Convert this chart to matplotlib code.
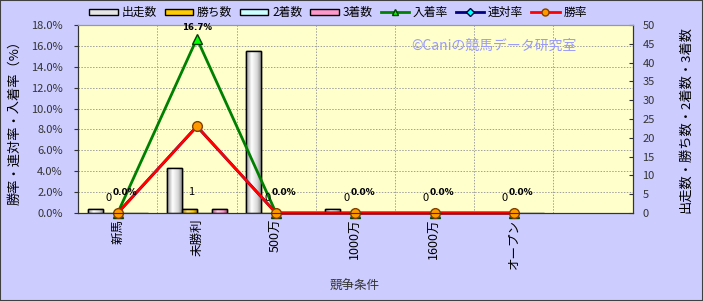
import matplotlib
matplotlib.use("Agg")
import matplotlib.pyplot as plt
import numpy as np
from matplotlib.patches import Patch, Rectangle
from matplotlib.lines import Line2D
from matplotlib.colors import LinearSegmentedColormap

plt.rcParams['font.family'] = ['Noto Sans CJK JP', 'DejaVu Sans']

categories = ['新馬', '未勝利', '500万', '1000万', '1600万', 'オープン', '']
starts = [1, 12, 43, 1, 0, 0]
wins = [0, 1, 0, 0, 0, 0]
seconds = [0, 0, 0, 0, 0, 0]
thirds = [0, 1, 0, 0, 0, 0]
place_rate = [0.0, 16.7, 0.0, 0.0, 0.0, 0.0]
quinella_rate = [0.0, 8.3, 0.0, 0.0, 0.0, 0.0]
win_rate = [0.0, 8.3, 0.0, 0.0, 0.0, 0.0]

fig = plt.figure(figsize=(7.03, 3.01), dpi=100, facecolor='#CCCCFF')
fig.patches.append(Rectangle((0, 0), 1, 1, transform=fig.transFigure, fill=False,
                             edgecolor='#404040', linewidth=1.5))
ax2 = fig.add_axes([0.111, 0.292, 0.789, 0.625])
ax = ax2.twinx()
# swap roles so the rate axis is on the left
ax.yaxis.tick_left()
ax.yaxis.set_label_position('left')
ax2.yaxis.tick_right()
ax2.yaxis.set_label_position('right')
ax2.set_facecolor('#FFFFCC')
ax.patch.set_visible(False)

n = len(starts)
x = np.arange(n)
w = 0.19
grid_c = '#A0A0A0'
for yv in np.arange(2, 18, 2):
    ax2.axhline(yv * 50 / 18, color=grid_c, linestyle=(0, (1.5, 1.5)), linewidth=0.7, zorder=0)
for xv in np.arange(0.5, len(categories) - 0.5, 1):
    ax2.axvline(xv, color=grid_c, linestyle=(0, (1.5, 1.5)), linewidth=0.7, zorder=0)

bar_sets = [(starts, ['#909090', '#FFFFFF', '#D8D8D8', '#808080'], '#E6E6E6'),
            (wins, ['#B08000', '#FFE680', '#FFCC00', '#A07000'], '#FFCC00'),
            (seconds, ['#88CCCC', '#F0FFFF', '#CCFFFF', '#88CCCC'], '#CCFFFF'),
            (thirds, ['#B05080', '#FFD0E8', '#FF99CC', '#A04070'], '#FF99CC')]
grad = np.linspace(0, 1, 64).reshape(1, -1)
for k, (vals, cols, base) in enumerate(bar_sets):
    cmap = LinearSegmentedColormap.from_list(f'g{k}', list(zip([0, 0.35, 0.7, 1], cols)))
    bars = ax2.bar(x + (k - 1.5) * w, vals, width=w, color=base, edgecolor='black', linewidth=1, zorder=2)
    for b in bars:
        if b.get_height() <= 0:
            continue
        im = ax2.imshow(grad, cmap=cmap, aspect='auto', zorder=2.5,
                        extent=[b.get_x(), b.get_x() + b.get_width(), 0, b.get_height()])
        im.set_clip_path(b)
        ax2.add_patch(Rectangle((b.get_x(), 0), b.get_width(), b.get_height(), fill=False,
                                edgecolor='black', linewidth=1, zorder=3))

ax2.set_xlim(-0.5, len(categories) - 0.5)
ax2.set_ylim(0, 50)
ax2.set_yticks(range(0, 51, 5))
ax2.tick_params(axis='y', labelsize=8, colors='#333333', direction='in', length=3, pad=7)

ax.plot(x, place_rate, color='#008000', lw=2, marker='^', ms=7, mfc='#00FF00', mec='#004000', clip_on=False)
ax.plot(x, quinella_rate, color='#000080', lw=2, marker='D', ms=5, mfc='#00FFFF', mec='#000040', clip_on=False)
ax.plot(x, win_rate, color='#FF0000', lw=2, marker='o', ms=7, mfc='#FF9900', mec='#804000', clip_on=False)

ax.set_xlim(-0.5, len(categories) - 0.5)
ax.set_ylim(0, 18)
ax.set_yticks(np.arange(0, 18.1, 2))
ax.set_yticklabels([f'{v:.1f}%' for v in np.arange(0, 18.1, 2)])
ax2.set_xticks(x)
ax2.set_xticklabels(categories[:n], rotation=90, fontsize=9)
ax2.tick_params(axis='x', length=0, pad=4)
ax.tick_params(axis='y', labelsize=8, colors='#333333', length=3, pad=8)

for a in (ax, ax2):
    for sp in ['left', 'bottom', 'right']:
        a.spines[sp].set_color('#333333')
    a.spines['top'].set_color('#999999')

# data labels
for i in range(n):
    if place_rate[i] == 0:
        ax.annotate('0', (i, 0), xytext=(-12, 10), textcoords='offset pixels', fontsize=8, ha='left', va='bottom')
        ax.annotate('0.0%', (i, 0), xytext=(-5, 16), textcoords='offset pixels', fontsize=6.5,
                    fontweight='bold', ha='left', va='bottom', family='DejaVu Sans')
ax.annotate('16.7%', (1, 16.7), xytext=(0, 7), textcoords='offset pixels', fontsize=6.2,
            fontweight='bold', ha='center', va='bottom', family='DejaVu Sans', annotation_clip=False)
ax.annotate('1', (1, 0), xytext=(-9, 16), textcoords='offset pixels', fontsize=8, ha='left', va='bottom')

ax.text(0.75, 0.89, '©Caniの競馬データ研究室', transform=ax.transAxes, fontsize=10,
        color='#9999FF', ha='center', va='center')

ax.set_ylabel('勝率・連対率・入着率（%）', fontsize=9.5, labelpad=7)
ax2.set_ylabel('出走数・勝ち数・2着数・3着数', fontsize=9.5, labelpad=18)
fig.text(0.505, 0.05, '競争条件', fontsize=9, ha='center', va='center', color='#333333')

handles = [
    Patch(facecolor='#E6E6E6', edgecolor='black', label='出走数'),
    Patch(facecolor='#FFCC00', edgecolor='black', label='勝ち数'),
    Patch(facecolor='#CCFFFF', edgecolor='black', label='2着数'),
    Patch(facecolor='#FF99CC', edgecolor='black', label='3着数'),
    Line2D([], [], color='#008000', lw=2, marker='^', ms=5, mfc='#00FF00', mec='#004000', label='入着率'),
    Line2D([], [], color='#000080', lw=2, marker='D', ms=4, mfc='#00FFFF', mec='#000040', label='連対率'),
    Line2D([], [], color='#FF0000', lw=2, marker='o', ms=5, mfc='#FF9900', mec='#804000', label='勝率'),
]
fig.legend(handles=handles, loc='upper left', bbox_to_anchor=(0.112, 1.015), ncol=7, frameon=False,
           fontsize=8.5, handlelength=2.4, handleheight=0.5, columnspacing=0.7, handletextpad=0.3)

fig.savefig('out.png', dpi=100, facecolor=fig.get_facecolor())
